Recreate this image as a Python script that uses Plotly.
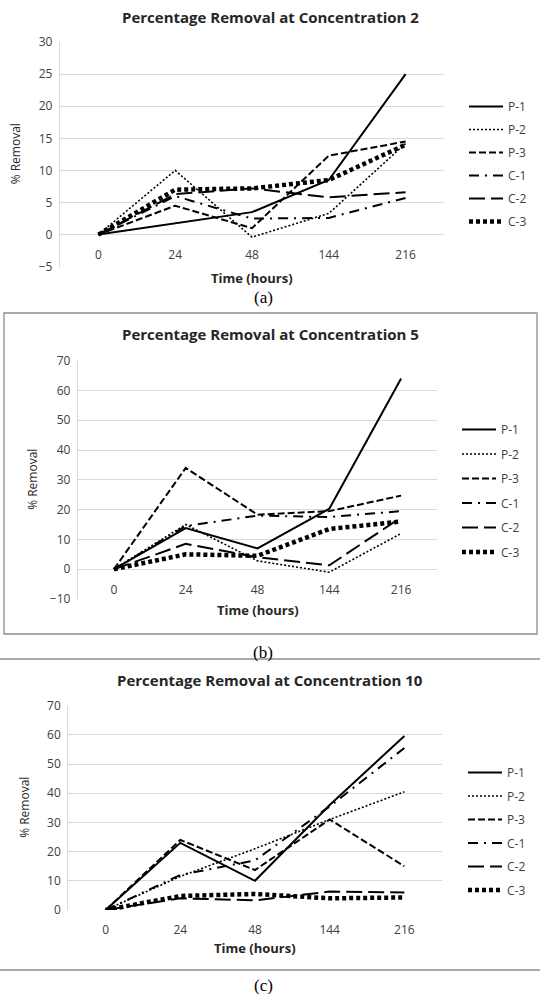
import plotly.graph_objects as go

W, H = 540, 994

times = ["0", "24", "48", "144", "216"]
series_names = ["P-1", "P-2", "P-3", "C-1", "C-2", "C-3"]

# Concentration 2
a_P1 = [0, 1.8, 3.5, 8.5, 25.0]
a_P2 = [0, 10.0, -0.4, 3.3, 14.2]
a_P3 = [0, 4.5, 1.0, 12.3, 14.5]
a_C1 = [0, 6.0, 2.5, 2.6, 5.7]
a_C2 = [0, 6.3, 7.2, 5.8, 6.6]
a_C3 = [0, 7.0, 7.2, 8.5, 14.0]

# Concentration 5
b_P1 = [0, 13.8, 7.0, 20.3, 64.0]
b_P2 = [0, 15.0, 2.8, -1.0, 12.0]
b_P3 = [0, 34.0, 18.3, 19.5, 24.7]
b_C1 = [0, 14.5, 18.0, 17.5, 19.5]
b_C2 = [0, 8.5, 4.0, 1.3, 17.4]
b_C3 = [0, 5.0, 4.5, 13.5, 16.0]

# Concentration 10
c_P1 = [0, 23.0, 10.0, 36.0, 59.6]
c_P2 = [0, 11.5, 21.0, 31.0, 40.5]
c_P3 = [0, 24.0, 13.7, 31.0, 15.0]
c_C1 = [0, 12.0, 17.0, 35.5, 55.5]
c_C2 = [0, 4.0, 3.3, 6.3, 6.0]
c_C3 = [0, 4.8, 5.5, 4.0, 4.3]

panel_titles = ["Percentage Removal at Concentration 2",
                "Percentage Removal at Concentration 5",
                "Percentage Removal at Concentration 10"]
panel_labels = ["(a)", "(b)", "(c)"]
y_ranges = [(-5, 30, 5), (-10, 70, 10), (0, 70, 10)]

panels = [
    [a_P1, a_P2, a_P3, a_C1, a_C2, a_C3],
    [b_P1, b_P2, b_P3, b_C1, b_C2, b_C3],
    [c_P1, c_P2, c_P3, c_C1, c_C2, c_C3],
]

# line styles
styles = [
    dict(width=2, dash="solid"),
    dict(width=1.6, dash="2px,2px"),
    dict(width=2, dash="7px,3px"),
    dict(width=2, dash="10px,6px,2px,6px"),
    dict(width=2, dash="16px,6px"),
    dict(width=4.5, dash="4px,3px"),
]

# pixel layout (left, right, top, bottom) of plot areas
boxes = [(60, 444, 42, 266.7), (78, 437, 360.7, 599), (68.3, 441.7, 705.7, 910)]
title_y = [17.5, 334, 680]
xtitle_y = [278, 610, 948]
ytitle_x = [15, 33, 25]
legend_pos = [(464, 92), (457, 415), (463, 758)]
legend_gap = [4, 5.5, 4.5]
label_y = [297, 652, 985]

FONT = "Open Sans"
GRID = "#d9d9d9"
TXT = "#404040"


def px(x):
    return x / W


def py(y):
    return 1 - y / H


fig = go.Figure()
annotations = []
shapes = []


def note(text, x, y, size, family=FONT, color="#262626", angle=0):
    annotations.append(dict(text=text, x=px(x), y=py(y), xref="paper", yref="paper",
                            xanchor="center", yanchor="middle", showarrow=False,
                            textangle=angle, font=dict(family=family, size=size, color=color)))


for i, (data, box) in enumerate(zip(panels, boxes)):
    k = "" if i == 0 else str(i + 1)
    lg = "legend" if i == 0 else f"legend{i + 1}"
    for name, vals, st in zip(series_names, data, styles):
        fig.add_trace(go.Scatter(
            x=times, y=vals, name=name, mode="lines",
            line=dict(color="black", width=st["width"], dash=st["dash"]),
            xaxis=f"x{k}", yaxis=f"y{k}", legend=lg, legendgroup=f"{i}{name}",
            showlegend=True,
        ))
    l, r, t, b = box
    ymin, ymax, dt = y_ranges[i]
    zero_frac = py(t + (b - t) * (ymax - 0) / (ymax - ymin))
    fig.layout[f"xaxis{k}"] = dict(
        domain=[px(l), px(r)], anchor="free", position=zero_frac, automargin=False,
        type="category", range=[-0.5, 4.5], showgrid=False, showline=False,
        zeroline=False, ticks="outside", ticklen=9, tickcolor="rgba(0,0,0,0)",
        tickfont=dict(family=FONT, size=12, color=TXT), fixedrange=True,
    )
    fig.layout[f"yaxis{k}"] = dict(
        domain=[py(b), py(t)], anchor=f"x{k}", range=[ymin, ymax], dtick=dt,
        automargin=False,
        tick0=0, showgrid=True, gridcolor=GRID, gridwidth=1.3, zeroline=False,
        showline=True, linecolor=GRID, linewidth=1.3, ticks="outside", ticklen=4,
        tickcolor="rgba(0,0,0,0)",
        tickfont=dict(family=FONT, size=12, color=TXT), fixedrange=True,
    )
    lx, ly = legend_pos[i]
    fig.layout[lg] = dict(
        x=px(lx), y=py(ly), xanchor="left", yanchor="top",
        font=dict(family=FONT, size=12, color=TXT), traceorder="grouped",
        bgcolor="rgba(0,0,0,0)", tracegroupgap=legend_gap[i], itemwidth=34,
    )
    cx = (l + r) / 2
    note(f"<b>{panel_titles[i]}</b>", 270, title_y[i], 15)
    note("<b>Time (hours)</b>", cx, xtitle_y[i], 13)
    note("% Removal", ytitle_x[i], (t + b) / 2, 12, angle=-90)
    note(panel_labels[i], 263, label_y[i], 17, family="Liberation Serif", color="black")

# frame around panel (b) and separator lines
shapes.append(dict(type="rect", xref="paper", yref="paper", x0=px(4), x1=px(537),
                   y0=py(634), y1=py(313), line=dict(color="#8c8c8c", width=1.3)))
for yy in (659, 970):
    shapes.append(dict(type="line", xref="paper", yref="paper", x0=0, x1=1,
                       y0=py(yy), y1=py(yy), line=dict(color="#8c8c8c", width=1.3)))

fig.update_layout(
    width=W, height=H, autosize=False,
    margin=dict(l=0, r=0, t=0, b=0, pad=0, autoexpand=False),
    paper_bgcolor="white", plot_bgcolor="white",
    annotations=annotations, shapes=shapes,
)

fig.write_html("out.html", config={"displayModeBar": False},
               post_script="document.body.style.margin='0';document.body.style.overflow='hidden';")
